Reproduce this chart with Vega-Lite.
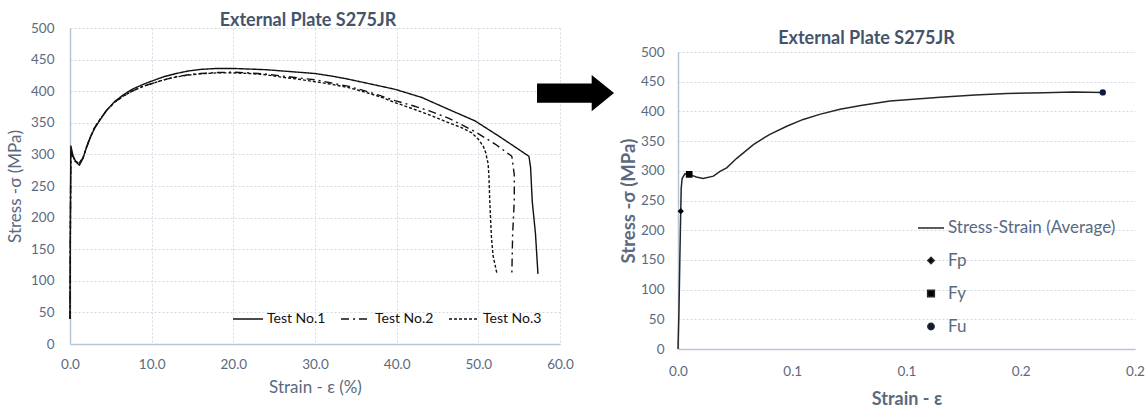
{
  "$schema": "https://vega.github.io/schema/vega-lite/v6.json",
  "padding": {"left": 6, "top": 11, "right": 0, "bottom": 0},
  "background": "white",
  "resolve": {"legend": {"strokeDash": "independent", "shape": "independent", "size": "independent", "color": "independent"}},
  "datasets": {
    "tests": [
      {"test": "Test No.1", "strain": 0, "stress": 40},
      {"test": "Test No.1", "strain": 0.05, "stress": 200},
      {"test": "Test No.1", "strain": 0.1, "stress": 314},
      {"test": "Test No.1", "strain": 0.35, "stress": 299},
      {"test": "Test No.1", "strain": 0.5, "stress": 294},
      {"test": "Test No.1", "strain": 0.8, "stress": 287},
      {"test": "Test No.1", "strain": 1.15, "stress": 283},
      {"test": "Test No.1", "strain": 1.6, "stress": 294},
      {"test": "Test No.1", "strain": 2.0, "stress": 310},
      {"test": "Test No.1", "strain": 2.5, "stress": 327},
      {"test": "Test No.1", "strain": 3.0, "stress": 341},
      {"test": "Test No.1", "strain": 3.7, "stress": 355},
      {"test": "Test No.1", "strain": 4.5, "stress": 370},
      {"test": "Test No.1", "strain": 5.5, "stress": 384},
      {"test": "Test No.1", "strain": 6.5, "stress": 394},
      {"test": "Test No.1", "strain": 7.6, "stress": 403},
      {"test": "Test No.1", "strain": 9, "stress": 411},
      {"test": "Test No.1", "strain": 10, "stress": 416},
      {"test": "Test No.1", "strain": 11.5, "stress": 423},
      {"test": "Test No.1", "strain": 13, "stress": 428},
      {"test": "Test No.1", "strain": 14.5, "stress": 432},
      {"test": "Test No.1", "strain": 16, "stress": 434.5},
      {"test": "Test No.1", "strain": 18, "stress": 436},
      {"test": "Test No.1", "strain": 20, "stress": 436},
      {"test": "Test No.1", "strain": 22, "stress": 435},
      {"test": "Test No.1", "strain": 24, "stress": 434},
      {"test": "Test No.1", "strain": 26, "stress": 432},
      {"test": "Test No.1", "strain": 28, "stress": 430},
      {"test": "Test No.1", "strain": 30, "stress": 428},
      {"test": "Test No.1", "strain": 32, "stress": 424},
      {"test": "Test No.1", "strain": 33.7, "stress": 420},
      {"test": "Test No.1", "strain": 36.6, "stress": 412},
      {"test": "Test No.1", "strain": 39.8, "stress": 403},
      {"test": "Test No.1", "strain": 43.1, "stress": 390},
      {"test": "Test No.1", "strain": 46.4, "stress": 371},
      {"test": "Test No.1", "strain": 49.6, "stress": 353},
      {"test": "Test No.1", "strain": 52.5, "stress": 329},
      {"test": "Test No.1", "strain": 56.2, "stress": 297},
      {"test": "Test No.1", "strain": 56.4, "stress": 279},
      {"test": "Test No.1", "strain": 56.6, "stress": 226},
      {"test": "Test No.1", "strain": 57.0, "stress": 174},
      {"test": "Test No.1", "strain": 57.3, "stress": 111},
      {"test": "Test No.2", "strain": 0, "stress": 40},
      {"test": "Test No.2", "strain": 0.05, "stress": 190},
      {"test": "Test No.2", "strain": 0.1, "stress": 302},
      {"test": "Test No.2", "strain": 0.35, "stress": 296},
      {"test": "Test No.2", "strain": 0.6, "stress": 289},
      {"test": "Test No.2", "strain": 1.1, "stress": 285},
      {"test": "Test No.2", "strain": 1.6, "stress": 295},
      {"test": "Test No.2", "strain": 2.0, "stress": 311},
      {"test": "Test No.2", "strain": 2.5, "stress": 328},
      {"test": "Test No.2", "strain": 3.0, "stress": 342},
      {"test": "Test No.2", "strain": 3.7, "stress": 356},
      {"test": "Test No.2", "strain": 4.5, "stress": 370},
      {"test": "Test No.2", "strain": 5.5, "stress": 383},
      {"test": "Test No.2", "strain": 6.5, "stress": 392},
      {"test": "Test No.2", "strain": 7.6, "stress": 400},
      {"test": "Test No.2", "strain": 9, "stress": 408},
      {"test": "Test No.2", "strain": 10, "stress": 412},
      {"test": "Test No.2", "strain": 11.5, "stress": 418},
      {"test": "Test No.2", "strain": 13, "stress": 423},
      {"test": "Test No.2", "strain": 14.5, "stress": 426},
      {"test": "Test No.2", "strain": 16, "stress": 428},
      {"test": "Test No.2", "strain": 18, "stress": 429.5},
      {"test": "Test No.2", "strain": 20, "stress": 430},
      {"test": "Test No.2", "strain": 22, "stress": 429},
      {"test": "Test No.2", "strain": 24, "stress": 427},
      {"test": "Test No.2", "strain": 26, "stress": 424},
      {"test": "Test No.2", "strain": 28, "stress": 421},
      {"test": "Test No.2", "strain": 30, "stress": 418},
      {"test": "Test No.2", "strain": 32, "stress": 413},
      {"test": "Test No.2", "strain": 34, "stress": 408},
      {"test": "Test No.2", "strain": 36, "stress": 401},
      {"test": "Test No.2", "strain": 38, "stress": 393},
      {"test": "Test No.2", "strain": 39.8, "stress": 385},
      {"test": "Test No.2", "strain": 42, "stress": 377},
      {"test": "Test No.2", "strain": 44, "stress": 369},
      {"test": "Test No.2", "strain": 46.4, "stress": 357},
      {"test": "Test No.2", "strain": 49.6, "stress": 336},
      {"test": "Test No.2", "strain": 52.1, "stress": 316},
      {"test": "Test No.2", "strain": 54.1, "stress": 297},
      {"test": "Test No.2", "strain": 54.4, "stress": 268},
      {"test": "Test No.2", "strain": 54.4, "stress": 226},
      {"test": "Test No.2", "strain": 54.2, "stress": 174},
      {"test": "Test No.2", "strain": 54.1, "stress": 108},
      {"test": "Test No.3", "strain": 0, "stress": 40},
      {"test": "Test No.3", "strain": 0.05, "stress": 180},
      {"test": "Test No.3", "strain": 0.1, "stress": 306},
      {"test": "Test No.3", "strain": 0.35, "stress": 297},
      {"test": "Test No.3", "strain": 0.6, "stress": 290},
      {"test": "Test No.3", "strain": 1.1, "stress": 286},
      {"test": "Test No.3", "strain": 1.6, "stress": 295},
      {"test": "Test No.3", "strain": 2.0, "stress": 311},
      {"test": "Test No.3", "strain": 2.5, "stress": 328},
      {"test": "Test No.3", "strain": 3.0, "stress": 342},
      {"test": "Test No.3", "strain": 3.7, "stress": 356},
      {"test": "Test No.3", "strain": 4.5, "stress": 370},
      {"test": "Test No.3", "strain": 5.5, "stress": 383},
      {"test": "Test No.3", "strain": 6.5, "stress": 392},
      {"test": "Test No.3", "strain": 7.6, "stress": 400},
      {"test": "Test No.3", "strain": 9, "stress": 408},
      {"test": "Test No.3", "strain": 10, "stress": 412},
      {"test": "Test No.3", "strain": 11.5, "stress": 418},
      {"test": "Test No.3", "strain": 13, "stress": 422.5},
      {"test": "Test No.3", "strain": 14.5, "stress": 425.5},
      {"test": "Test No.3", "strain": 16, "stress": 427.5},
      {"test": "Test No.3", "strain": 18, "stress": 429},
      {"test": "Test No.3", "strain": 20, "stress": 429},
      {"test": "Test No.3", "strain": 22, "stress": 428},
      {"test": "Test No.3", "strain": 24, "stress": 426},
      {"test": "Test No.3", "strain": 26, "stress": 422},
      {"test": "Test No.3", "strain": 28, "stress": 419},
      {"test": "Test No.3", "strain": 30, "stress": 415},
      {"test": "Test No.3", "strain": 32, "stress": 411},
      {"test": "Test No.3", "strain": 34, "stress": 406},
      {"test": "Test No.3", "strain": 36, "stress": 399},
      {"test": "Test No.3", "strain": 38, "stress": 391},
      {"test": "Test No.3", "strain": 39.8, "stress": 382},
      {"test": "Test No.3", "strain": 42, "stress": 372},
      {"test": "Test No.3", "strain": 44.3, "stress": 361},
      {"test": "Test No.3", "strain": 46, "stress": 352},
      {"test": "Test No.3", "strain": 48, "stress": 342},
      {"test": "Test No.3", "strain": 49.2, "stress": 334},
      {"test": "Test No.3", "strain": 50.0, "stress": 324},
      {"test": "Test No.3", "strain": 50.6, "stress": 313},
      {"test": "Test No.3", "strain": 50.9, "stress": 303},
      {"test": "Test No.3", "strain": 51.2, "stress": 285},
      {"test": "Test No.3", "strain": 51.3, "stress": 265},
      {"test": "Test No.3", "strain": 51.4, "stress": 226},
      {"test": "Test No.3", "strain": 51.6, "stress": 170},
      {"test": "Test No.3", "strain": 51.8, "stress": 140},
      {"test": "Test No.3", "strain": 52.3, "stress": 110}
    ],
    "arrow": [{"strain": 61.9, "stress": 397}],
    "average": [
      {"strain": 0, "stress": 0},
      {"strain": 0.0004, "stress": 60},
      {"strain": 0.0008, "stress": 150},
      {"strain": 0.0012, "stress": 232},
      {"strain": 0.0014, "stress": 270},
      {"strain": 0.0018, "stress": 287},
      {"strain": 0.003, "stress": 295},
      {"strain": 0.0049, "stress": 294},
      {"strain": 0.008, "stress": 289.5},
      {"strain": 0.011, "stress": 287},
      {"strain": 0.0155, "stress": 291},
      {"strain": 0.0184, "stress": 299},
      {"strain": 0.0213, "stress": 305},
      {"strain": 0.0257, "stress": 321},
      {"strain": 0.033, "stress": 344},
      {"strain": 0.04, "stress": 361},
      {"strain": 0.0476, "stress": 375},
      {"strain": 0.0548, "stress": 386.5},
      {"strain": 0.062, "stress": 395},
      {"strain": 0.0709, "stress": 403.5},
      {"strain": 0.08, "stress": 410},
      {"strain": 0.0928, "stress": 417.5},
      {"strain": 0.1147, "stress": 424},
      {"strain": 0.13, "stress": 427.5},
      {"strain": 0.1438, "stress": 430},
      {"strain": 0.16, "stress": 431.5},
      {"strain": 0.173, "stress": 432.5},
      {"strain": 0.1859, "stress": 432}
    ],
    "points": [
      {"series": "Fp", "strain": 0.0012, "stress": 232},
      {"series": "Fy", "strain": 0.0049, "stress": 294},
      {"series": "Fu", "strain": 0.1859, "stress": 432}
    ],
    "rgrid": [
      {"strain": 0.05}, {"strain": 0.1}, {"strain": 0.15}, {"strain": 0.2}
    ]
  },
  "hconcat": [
    {
      "width": 490,
      "height": 316,
      "title": {"text": "External Plate S275JR", "dx": -7, "offset": -8.5},
      "encoding": {
        "x": {"field": "strain", "type": "quantitative", "scale": {"domain": [0, 60], "nice": false},
              "axis": {"title": "Strain - ε (%)", "titleFontSize": 17, "values": [0, 10, 20, 30, 40, 50, 60], "format": ".1f", "labelFlush": false, "labelPadding": 13, "titlePadding": 9}},
        "y": {"field": "stress", "type": "quantitative", "scale": {"domain": [0, 500], "nice": false},
              "axis": {"title": "Stress -σ (MPa)", "titleFontSize": 17, "values": [0, 50, 100, 150, 200, 250, 300, 350, 400, 450, 500], "labelPadding": 16, "titlePadding": 6}}
      },
      "layer": [
        {
          "data": {"name": "tests"},
          "mark": {"type": "line", "color": "#111111", "strokeWidth": 1.4},
          "encoding": {
            "strokeDash": {"field": "test", "type": "nominal",
              "scale": {"domain": ["Test No.1", "Test No.2", "Test No.3"], "range": [[1, 0], [8, 4, 2, 4], [3, 2]]},
              "legend": {"title": null, "orient": "bottom-right", "direction": "horizontal", "offset": 18,
                         "symbolType": "stroke", "symbolSize": 900, "symbolStrokeWidth": 1.4, "symbolStrokeColor": "#111111",
                         "labelFontSize": 14, "labelColor": "#111111", "columnPadding": 12, "labelOffset": 3}},
            "order": {"value": null}
          }
        },
        {
          "data": {"name": "arrow"},
          "mark": {"type": "point", "filled": true, "color": "#000000", "opacity": 1,
                   "shape": "M-1,-0.25L0.42,-0.25L0.42,-0.47L1,0L0.42,0.47L0.42,0.25L-1,0.25Z", "size": 5929},
          "encoding": {}
        }
      ]
    },
    {
      "width": 457,
      "height": 321,
      "title": {"text": "External Plate S275JR", "dx": -40, "offset": -19.5},
      "encoding": {
        "x": {"field": "strain", "type": "quantitative", "scale": {"domain": [0, 0.2], "nice": false},
              "axis": {"title": "Strain - ε", "titleFontWeight": "bold", "titleFontSize": 18, "values": [0, 0.05, 0.1, 0.15, 0.2], "grid": false,
                       "labelExpr": "format(round(datum.value*10)/10, '.1f')", "labelFlush": false, "labelPadding": 15, "titlePadding": 13}},
        "y": {"field": "stress", "type": "quantitative", "scale": {"domain": [0, 500], "nice": false, "range": [321, 24]},
              "axis": {"title": "Stress -σ (MPa)", "titleFontWeight": "bold", "titleFontSize": 18.5,
                       "values": [0, 50, 100, 150, 200, 250, 300, 350, 400, 450, 500], "labelPadding": 14, "titlePadding": 2}}
      },
      "layer": [
        {
          "data": {"name": "rgrid"},
          "mark": {"type": "rule", "color": "#d5dbe5", "strokeDash": [2, 2], "strokeWidth": 1},
          "encoding": {
            "y": {"datum": 0, "type": "quantitative"},
            "y2": {"datum": 500}
          }
        },
        {
          "data": {"name": "average"},
          "mark": {"type": "line", "color": "#262626", "strokeWidth": 1.5},
          "encoding": {"order": {"value": null}}
        },
        {
          "data": {"name": "points"},
          "mark": {"type": "point", "filled": true, "opacity": 1},
          "encoding": {
            "shape": {"field": "series", "type": "nominal",
              "scale": {"domain": ["Stress-Strain (Average)", "Fp", "Fy", "Fu"], "range": ["stroke", "diamond", "square", "circle"]},
              "legend": {"title": null, "orient": "none", "legendX": 239, "legendY": 186, "direction": "vertical",
                         "labelFontSize": 17, "labelColor": "#596a80", "labelOffset": 3, "rowPadding": 15, "labelLimit": 300,
                         "symbolStrokeColor": "#262626", "symbolStrokeWidth": 1.5}},
            "size": {"field": "series", "type": "nominal",
              "scale": {"type": "ordinal", "domain": ["Stress-Strain (Average)", "Fp", "Fy", "Fu"], "range": [676, 40, 45, 40]}},
            "color": {"field": "series", "type": "nominal",
              "scale": {"domain": ["Stress-Strain (Average)", "Fp", "Fy", "Fu"], "range": ["#262626", "#000000", "#000000", "#0d1b3e"]}}
          }
        }
      ]
    }
  ],
  "spacing": 4,
  "config": {
    "font": "Lato",
    "view": {"stroke": null},
    "axis": {
      "grid": true, "gridColor": "#d5dbe5", "gridDash": [2, 2], "gridWidth": 1,
      "ticks": false, "domainColor": "#b8c6dc", "domainWidth": 1.5,
      "labelColor": "#5b6a80", "labelFontSize": 13.5, "labelFont": "Lato",
      "titleColor": "#5b6a80", "titleFontWeight": "normal", "titleFontSize": 16.5, "titleFont": "Lato"
    },
    "title": {"color": "#44546A", "fontSize": 18, "fontWeight": "bold", "font": "Lato"},
    "legend": {"labelFont": "Lato"}
  }
}
